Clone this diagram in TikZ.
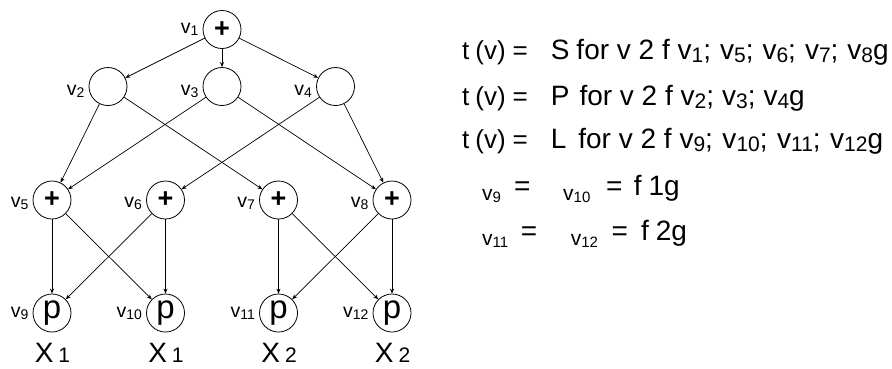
\documentclass[tikz,border=0pt]{standalone}
\usepackage{fontspec}
\setmainfont{Liberation Sans}
\usetikzlibrary{arrows.meta}
\newcommand\fs[1]{\fontsize{#1}{#1}\selectfont}
\newcommand\lab[1]{{\fs{19.5}v}\raisebox{-2pt}{\fs{14}#1}}
\newcommand\msub[1]{\raisebox{-3pt}{\fs{21}#1}}
\newcommand\lv[1]{\raisebox{-5pt}{\fs{21}v\raisebox{-2pt}{\fs{15}#1}}}
\newcommand\tv{{\fs{26}t\hspace{6pt}(v)\hspace{7pt}=}\hspace{22.9pt}}
\begin{document}
\begin{tikzpicture}[x=1pt,y=-1pt,
  vtx/.style={circle,draw,line width=0.8pt,minimum size=38pt,inner sep=0pt},
  lbl/.style={anchor=base east,inner sep=0pt},
  xl/.style={anchor=base,inner sep=0pt},
  edge/.style={line width=0.7pt,-{Stealth[length=5pt,width=4pt]}},
  txt/.style={anchor=base west,inner sep=0pt}]
\useasboundingbox (0,0) rectangle (892,368);
% nodes
\node[vtx] (v1) at (222,29.5) {\fs{27}\bfseries +};
\node[vtx] (v2) at (108,86.5) {};
\node[vtx] (v3) at (222,86.5) {};
\node[vtx] (v4) at (335.5,86.5) {};
\node[vtx] (v5) at (52,200) {\fs{27}\bfseries +};
\node[vtx] (v6) at (165.5,200) {\fs{27}\bfseries +};
\node[vtx] (v7) at (278.5,200) {\fs{27}\bfseries +};
\node[vtx] (v8) at (392,200) {\fs{27}\bfseries +};
\node[vtx] (v9) at (52,313) {\fs{33}p};
\node[vtx] (v10) at (165.5,313) {\fs{33}p};
\node[vtx] (v11) at (278.5,313) {\fs{33}p};
\node[vtx] (v12) at (392,313) {\fs{33}p};
% labels
\foreach \i/\d in {1/4,2/9,3/9,4/9,5/7,6/7,7/7,8/7,9/4,10/4,11/4,12/4}{
  \node[lbl] (l\i) at ([xshift=-4pt,yshift=-\d pt]v\i.west) {\lab{\i}};
}
% X labels
\node[xl] (x9) at (52.5,362) {\fs{28}X\hspace{5pt}{\fs{21}1}};
\node[xl] (x10) at (166,362) {\fs{28}X\hspace{5pt}{\fs{21}1}};
\node[xl] (x11) at (279,362) {\fs{28}X\hspace{5pt}{\fs{21}2}};
\node[xl] (x12) at (392.5,362) {\fs{28}X\hspace{5pt}{\fs{21}2}};
% edges
\draw[edge] (v1) -- (v2);
\draw[edge] (v1) -- (v3);
\draw[edge] (v1) -- (v4);
\draw[edge] (v2) -- (v5);
\draw[edge] (v2) -- (v7);
\draw[edge] (v3) -- (v5);
\draw[edge] (v3) -- (v8);
\draw[edge] (v4) -- (v6);
\draw[edge] (v4) -- (v8);
\draw[edge] (v5) -- (v9);
\draw[edge] (v5) -- (v10);
\draw[edge] (v6) -- (v9);
\draw[edge] (v6) -- (v10);
\draw[edge] (v7) -- (v11);
\draw[edge] (v7) -- (v12);
\draw[edge] (v8) -- (v11);
\draw[edge] (v8) -- (v12);
% right text
\node[txt] (t1) at (462,59) {\tv\fs{28}S\hspace{7pt}for v 2 f v\msub{1};\hspace{9pt}v\msub{5};\hspace{9pt}v\msub{6};\hspace{9pt}v\msub{7};\hspace{9pt}v\msub{8}g};
\node[txt] (t2) at (462,105) {\tv\fs{28}P\hspace{10pt}for v 2 f v\msub{2};\hspace{8pt}v\msub{3};\hspace{8pt}v\msub{4}g};
\node[txt] (t3) at (462,148) {\tv\fs{28}L\hspace{12pt}for v 2 f v\msub{9};\hspace{9.5pt}v\msub{10};\hspace{9.5pt}v\msub{11};\hspace{9.5pt}v\msub{12}g};
\node[txt] (t4) at (482,195) {\lv{9}\hspace{13.1pt}{\fs{28}=}\hspace{32.7pt}\lv{10}\hspace{15.7pt}{\fs{28}=\hspace{11.4pt}f\hspace{7pt}1g}};
\node[txt] (t5) at (482,240) {\lv{11}\hspace{12.7pt}{\fs{28}=}\hspace{33.5pt}\lv{12}\hspace{13.7pt}{\fs{28}=\hspace{13pt}f\hspace{7pt}2g}};
\end{tikzpicture}
\end{document}
